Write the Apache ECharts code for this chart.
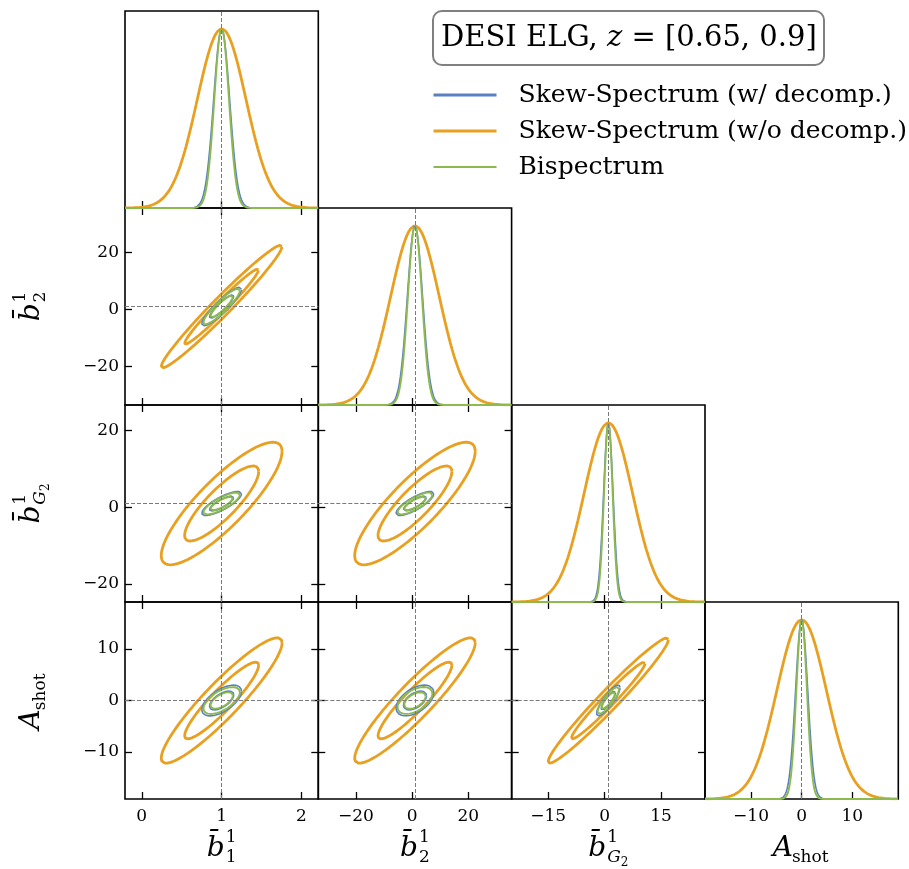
<!DOCTYPE html>
<html><head><meta charset="utf-8">
<script src="https://cdn.jsdelivr.net/npm/echarts@6/dist/echarts.min.js"></script>
<style>html,body{margin:0;padding:0;background:#fff}#c{width:909px;height:869px}</style>
</head><body><div id="c"></div>
<script>
// ---- data ----
const paramKeys = ['b1', 'b2', 'bG2', 'Ashot'];
const fiducial = [1.0, 1.0, 1.0, 0.0];
const rangeMin = [-0.21, -33.4, -24.7, -19.1];
const rangeMax = [2.21, 35.4, 26.7, 19.1];
const xTicks = [[0, 1, 2], [-20, 0, 20], [-15, 0, 15], [-10, 0, 10]];
const yTicks = [[0, 1, 2], [-20, 0, 20], [-20, 0, 20], [-10, 0, 10]];
const seriesNames = ['Skew-Spectrum (w/ decomp.)', 'Skew-Spectrum (w/o decomp.)', 'Bispectrum'];
const sigmaWithDecomp = [0.10, 2.7, 1.26, 1.2];
const sigmaWithoutDecomp = [0.305, 8.65, 6.45, 4.9];
const sigmaBispectrum = [0.092, 2.5, 1.15, 1.05];
const pairs = [[0, 1], [0, 2], [0, 3], [1, 2], [1, 3], [2, 3]];
const corrWithDecomp = [0.90, 0.80, 0.60, 0.80, 0.50, 0.85];
const corrWithoutDecomp = [0.978, 0.85, 0.92, 0.85, 0.92, 0.975];
const corrBispectrum = [0.90, 0.80, 0.60, 0.80, 0.50, 0.85];
const contourLevels = [1.52, 2.48];
const axisTitleBase = ['b\u0304', 'b\u0304', 'b\u0304', 'A'];
const axisTitleSup = ['1', '1', '1', ''];
const axisTitleSub = ['1', '2', 'G', 'shot'];
const axisTitleSubSub = ['', '', '2', ''];
const titleText = 'DESI ELG, {i|z} = [0.65, 0.9]';

// ---- layout / style ----
const colLeft = [125, 318.3, 511.7, 705];
const rowTop = [11, 208, 405, 602];
const panelW = 193.3, panelH = 197;
const colors = ['#5B80C2', '#E8A021', '#8DBA4F'];
const widths = [1.6, 2.8, 1.9];
const sigmas = [sigmaWithDecomp, sigmaWithoutDecomp, sigmaBispectrum];
const corrs = [corrWithDecomp, corrWithoutDecomp, corrBispectrum];
const drawOrder = [1, 0, 2];
const FONT = 'DejaVu Serif';

const fmt = v => v < 0 ? '\u2212' + Math.abs(v) : String(v);
const tickStyle = { inside: true, length: 7, lineStyle: { color: '#000', width: 1.3 } };
const labelStyle = { fontFamily: FONT, fontSize: 17, color: '#000' };
const noLine = { show: false, onZero: false };

const grids = [], xAxes = [], yAxes = [], series = [];
const dashed = { type: 'dashed', color: '#7a7a7a', width: 1 };

for (let r = 0; r < 4; r++) {
  for (let c = 0; c <= r; c++) {
    const g = grids.length;
    const diag = r === c;
    grids.push({ left: colLeft[c], top: rowTop[r], width: panelW, height: panelH, show: true,
      borderColor: '#000', borderWidth: 1.6, backgroundColor: 'transparent' });
    const xi = xAxes.length;
    xAxes.push({ type: 'value', gridIndex: g, position: 'bottom', min: rangeMin[c], max: rangeMax[c],
      axisLine: noLine, splitLine: { show: false },
      axisTick: Object.assign({ customValues: xTicks[c] }, tickStyle),
      axisLabel: Object.assign({ show: r === 3, customValues: xTicks[c], formatter: fmt, margin: 9 }, labelStyle) });
    if (!diag) {
      xAxes.push({ type: 'value', gridIndex: g, position: 'top', min: rangeMin[c], max: rangeMax[c],
        axisLine: noLine, splitLine: { show: false },
        axisTick: Object.assign({ customValues: xTicks[c] }, tickStyle), axisLabel: { show: false } });
    }
    const yi = yAxes.length;
    if (diag) {
      yAxes.push({ type: 'value', gridIndex: g, min: 0, max: 1.1, show: false, axisLine: noLine });
    } else {
      yAxes.push({ type: 'value', gridIndex: g, position: 'left', min: rangeMin[r], max: rangeMax[r],
        axisLine: noLine, splitLine: { show: false },
        axisTick: Object.assign({ customValues: yTicks[r] }, tickStyle),
        axisLabel: Object.assign({ show: c === 0, customValues: yTicks[r], formatter: fmt, margin: 6 }, labelStyle) });
      yAxes.push({ type: 'value', gridIndex: g, position: 'right', min: rangeMin[r], max: rangeMax[r],
        axisLine: noLine, splitLine: { show: false },
        axisTick: Object.assign({ customValues: yTicks[r] }, tickStyle), axisLabel: { show: false } });
    }
    drawOrder.forEach((k, oi) => {
      const base = { type: 'line', name: seriesNames[k], xAxisIndex: xi, yAxisIndex: yi,
        showSymbol: false, symbol: 'none', silent: true, animation: false, z: 2 + oi,
        lineStyle: { color: colors[k], width: widths[k] }, itemStyle: { color: colors[k] } };
      if (diag) {
        const s = sigmas[k][c], N = 400, data = [];
        for (let i = 0; i <= N; i++) {
          const x = rangeMin[c] + (rangeMax[c] - rangeMin[c]) * i / N;
          data.push([x, Math.exp(-0.5 * Math.pow((x - fiducial[c]) / s, 2))]);
        }
        const ser = Object.assign({ data }, base);
        if (oi === 0) ser.markLine = { silent: true, symbol: ['none', 'none'], label: { show: false },
          lineStyle: dashed, animation: false, data: [{ xAxis: fiducial[c] }] };
        series.push(ser);
      } else {
        const p = pairs.findIndex(q => q[0] === c && q[1] === r);
        const rho = corrs[k][p], sx = sigmas[k][c], sy = sigmas[k][r];
        contourLevels.forEach((L, li) => {
          const M = 180, data = [];
          for (let i = 0; i <= M; i++) {
            const t = 2 * Math.PI * i / M;
            data.push([fiducial[c] + L * sx * Math.cos(t),
                       fiducial[r] + L * sy * (rho * Math.cos(t) + Math.sqrt(1 - rho * rho) * Math.sin(t))]);
          }
          const ser = Object.assign({ data }, base);
          if (oi === 0 && li === 0) ser.markLine = { silent: true, symbol: ['none', 'none'], label: { show: false },
            lineStyle: dashed, animation: false, data: [{ xAxis: fiducial[c] }, { yAxis: fiducial[r] }] };
          series.push(ser);
        });
      }
    });
  }
}

// ---- axis titles (math-like labels) ----
const ctx = document.createElement('canvas').getContext('2d');
function tw(text, font) { ctx.font = font; return ctx.measureText(text).width; }
const mainFont = 'italic 28px "DejaVu Serif"';
const supFont = '17px "DejaVu Serif"';
const subItFont = 'italic 17px "DejaVu Serif"';
const subsubFont = '12px "DejaVu Serif"';
function mathLabel(i, x, y, rot) {
  const bw = tw(axisTitleBase[i], mainFont);
  const subIsIt = axisTitleSub[i] === 'G';
  const subF = subIsIt ? subItFont : supFont;
  const subW = tw(axisTitleSub[i], subF) + (axisTitleSubSub[i] ? tw(axisTitleSubSub[i], subsubFont) : 0);
  const supW = axisTitleSup[i] ? tw(axisTitleSup[i], supFont) : 0;
  const total = bw + 1 + Math.max(subW, supW);
  const x0 = -total / 2;
  const subX = x0 + bw + (axisTitleBase[i] === 'A' ? -1 : 1);
  const children = [
    { type: 'text', x: x0, y: 0, style: { text: axisTitleBase[i], font: mainFont, fill: '#000', align: 'left', verticalAlign: 'middle' } },
    { type: 'text', x: subX, y: 9, style: { text: axisTitleSub[i], font: subF, fill: '#000', align: 'left', verticalAlign: 'middle' } }
  ];
  if (axisTitleSup[i]) children.push({ type: 'text', x: x0 + bw + 1, y: -11,
    style: { text: axisTitleSup[i], font: supFont, fill: '#000', align: 'left', verticalAlign: 'middle' } });
  if (axisTitleSubSub[i]) children.push({ type: 'text', x: subX + tw(axisTitleSub[i], subF), y: 14,
    style: { text: axisTitleSubSub[i], font: subsubFont, fill: '#000', align: 'left', verticalAlign: 'middle' } });
  return { type: 'group', x, y, rotation: rot, children };
}
const graphics = [];
for (let c = 0; c < 4; c++) graphics.push(mathLabel(c, colLeft[c] + panelW / 2, 849, 0));
for (let r = 1; r < 4; r++) graphics.push(mathLabel(r, 32, rowTop[r] + panelH / 2, Math.PI / 2));

const chart = echarts.init(document.getElementById('c'), null, { renderer: 'canvas', width: 909, height: 869 });
chart.setOption({
  animation: false,
  backgroundColor: '#fff',
  title: { text: titleText, left: 433, top: 11, padding: [9, 8, 9, 8],
    borderColor: '#808080', borderWidth: 2, borderRadius: 9,
    textStyle: { fontFamily: FONT, fontSize: 29, lineHeight: 36, fontWeight: 'normal', color: '#000',
      rich: { i: { fontFamily: FONT, fontStyle: 'italic', fontSize: 29, lineHeight: 36, color: '#000' } } } },
  legend: { orient: 'vertical', left: 432, top: 80, padding: 0, itemWidth: 63, itemHeight: 14, itemGap: 6,
    selectedMode: false,
    itemStyle: { opacity: 0 },
    data: [
      { name: seriesNames[0], lineStyle: { width: 3 }, itemStyle: { opacity: 0 } },
      { name: seriesNames[1], lineStyle: { width: 3 }, itemStyle: { opacity: 0 } },
      { name: seriesNames[2], lineStyle: { width: 2 }, itemStyle: { opacity: 0 } }
    ],
    textStyle: { fontFamily: FONT, fontSize: 25, color: '#000', lineHeight: 30, padding: [0, 0, 0, 17] } },
  grid: grids, xAxis: xAxes, yAxis: yAxes, series, graphic: graphics
});
</script></body></html>
